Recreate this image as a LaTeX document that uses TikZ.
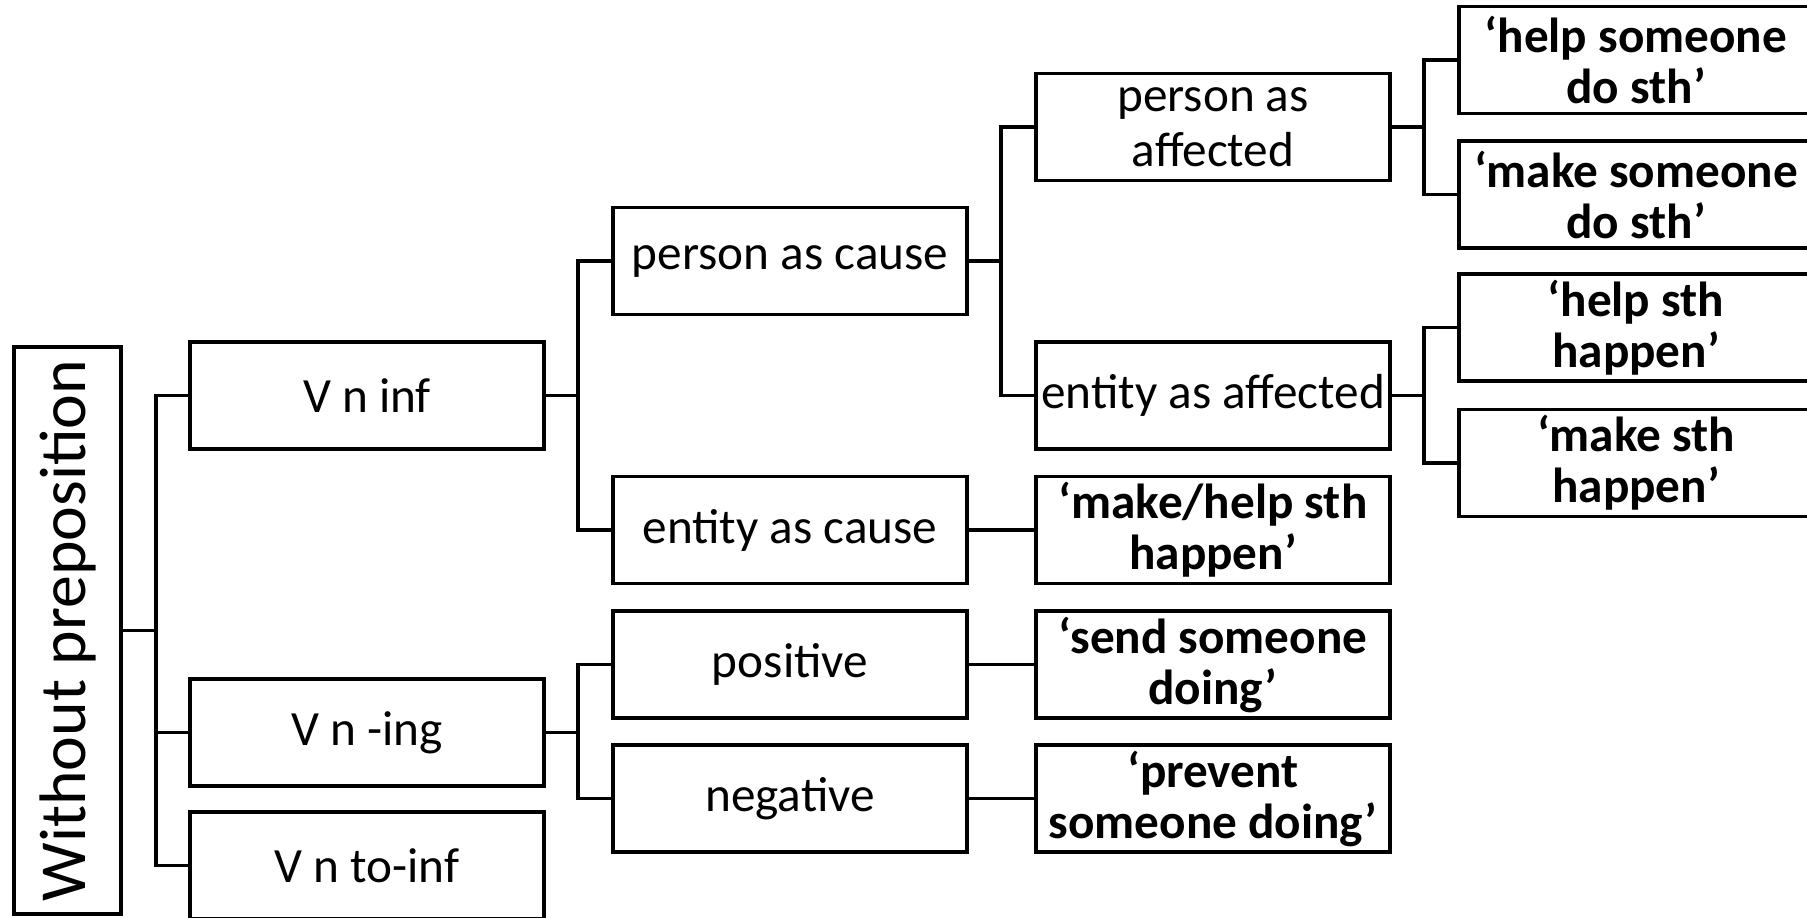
\documentclass[tikz,border=0pt]{standalone}
\usepackage{fontspec}
\setmainfont{Carlito}
\begin{document}
\begin{tikzpicture}[x=0.01cm,y=-0.01cm,
  box/.style={draw,line width=1.1pt,inner sep=0pt,outer sep=0pt,
    minimum width=3.54cm,minimum height=1.07cm,align=center,
    font=\fontsize{14}{15.5}\selectfont},
  quote/.style={box,font=\fontsize{14}{14.5}\selectfont\bfseries},
  link/.style={line width=1.1pt}]
\useasboundingbox (0,0) rectangle (1807,917);
\clip (0,0) rectangle (1807,917);
\fill[white] (0,0) rectangle (1807,917);

% root, set sideways
\node[draw,line width=1.1pt,inner sep=0pt,outer sep=0pt,minimum width=5.67cm,minimum height=1.07cm,
  rotate=90,font=\fontsize{18.7}{22}\selectfont] (root) at (67.5,630.5) {Without preposition};

% first level
\node[box] (vninf)   at (367,395.5) {V n inf};
\node[box] (vning)   at (367,732.5) {V n -ing};
\node[box] (vntoinf) at (367,865.5) {V n to-inf};

% second level
\node[box] (pcause) at (790,261)   {person as cause};
\node[box] (ecause) at (790,530)   {entity as cause};
\node[box] (pos)    at (790,664.5) {positive};
\node[box] (neg)    at (790,798.5) {negative};

% third level
\node[box]   (paff) at (1213,127)   {person as\\affected};
\node[box]   (eaff) at (1213,395.5) {entity as affected};
\node[quote] (mhsh) at (1213,530)   {‘make/help sth\\happen’};
\node[quote] (ssd)  at (1213,664.5) {‘send someone\\doing’};
\node[quote] (psd)  at (1213,798.5) {‘prevent\\someone doing’};

% fourth level
\node[quote] (hsds) at (1636,60)    {‘help someone\\do sth’};
\node[quote] (msds) at (1636,194.5) {‘make someone\\do sth’};
\node[quote] (hsh)  at (1636,327.5) {‘help sth\\happen’};
\node[quote] (msh)  at (1636,463)   {‘make sth\\happen’};

% connectors
\draw[link] (root.south) -- ++(35,0) |- (vninf.west);
\draw[link] (root.south) ++(35,0) |- (vning.west);
\draw[link] (root.south) ++(35,0) |- (vntoinf.west);

\draw[link] (vninf.east) -- ++(34,0) |- (pcause.west);
\draw[link] (vninf.east) ++(34,0) |- (ecause.west);
\draw[link] (vning.east) -- ++(34,0) |- (pos.west);
\draw[link] (vning.east) ++(34,0) |- (neg.west);

\draw[link] (pcause.east) -- ++(34,0) |- (paff.west);
\draw[link] (pcause.east) ++(34,0) |- (eaff.west);
\draw[link] (ecause.east) -- (mhsh.west);
\draw[link] (pos.east) -- (ssd.west);
\draw[link] (neg.east) -- (psd.west);

\draw[link] (paff.east) -- ++(34,0) |- (hsds.west);
\draw[link] (paff.east) ++(34,0) |- (msds.west);
\draw[link] (eaff.east) -- ++(34,0) |- (hsh.west);
\draw[link] (eaff.east) ++(34,0) |- (msh.west);
\end{tikzpicture}
\end{document}
